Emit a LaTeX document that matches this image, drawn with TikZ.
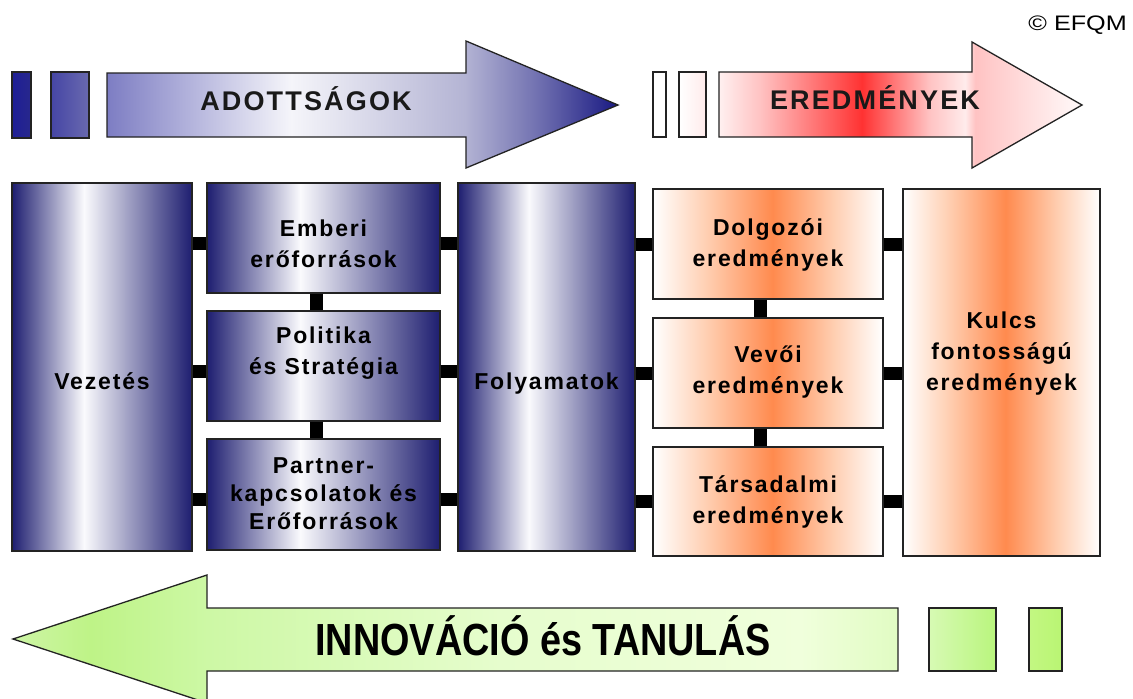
\documentclass[tikz,border=0pt]{standalone}
\usepackage{fontspec}
\usepackage{graphicx}
\setmainfont{Liberation Sans}
\newfontfamily\spaced{Liberation Sans}[LetterSpace=8]

\definecolor{navy}{RGB}{30,30,112}
\definecolor{bwhite}{RGB}{250,250,253}
\definecolor{orng}{RGB}{255,138,78}
\definecolor{orlight}{RGB}{255,205,175}
\definecolor{tA}{RGB}{125,125,195}
\definecolor{tB}{RGB}{245,245,250}
\definecolor{tC}{RGB}{180,180,212}
\definecolor{tD}{RGB}{110,110,175}
\definecolor{tE}{RGB}{25,25,130}
\definecolor{rA}{RGB}{255,240,240}
\definecolor{rB}{RGB}{255,195,195}
\definecolor{rC}{RGB}{255,50,50}
\definecolor{rD}{RGB}{255,235,235}
\definecolor{rE}{RGB}{255,250,250}
\definecolor{gA}{RGB}{205,245,165}
\definecolor{gB}{RGB}{190,243,135}
\definecolor{gC}{RGB}{205,248,165}
\definecolor{gD}{RGB}{230,253,205}
\definecolor{gE}{RGB}{240,255,220}
\definecolor{gF}{RGB}{225,252,195}
\definecolor{edge}{RGB}{35,35,35}

\pgfdeclarehorizontalshading{shBlue}{100bp}{color(0bp)=(navy); color(25bp)=(navy); color(45bp)=(bwhite); color(75bp)=(navy); color(100bp)=(navy)}
\pgfdeclarehorizontalshading{shOrange}{100bp}{color(0bp)=(white); color(25bp)=(white); color(37bp)=(orlight); color(51bp)=(orng); color(64bp)=(orlight); color(75bp)=(white); color(100bp)=(white)}
\pgfdeclarehorizontalshading{shTop}{100bp}{color(0bp)=(tA); color(25bp)=(tA); color(43bp)=(tB); color(60bp)=(tC); color(67.4bp)=(tD); color(75bp)=(tE); color(100bp)=(tE)}
\pgfdeclarehorizontalshading{shRed}{100bp}{color(0bp)=(rA); color(25bp)=(rA); color(30.6bp)=(rB); color(44.7bp)=(rC); color(54bp)=(rB); color(58.9bp)=(rD); color(60.3bp)=(rB); color(75bp)=(rE); color(100bp)=(rE)}
\pgfdeclarehorizontalshading{shGreen}{100bp}{color(0bp)=(gA); color(25bp)=(gA); color(29.4bp)=(gB); color(36bp)=(gC); color(52.5bp)=(gD); color(69.5bp)=(gE); color(75bp)=(gF); color(100bp)=(gF)}

\begin{document}
\begin{tikzpicture}[
  x=1pt, y=-1pt,
  box/.style={draw=edge, line width=1.3pt, rectangle, inner sep=0pt, anchor=center},
  bluebox/.style={box, shade, shading=shBlue},
  orbox/.style={box, shade, shading=shOrange},
  lbl/.style={font=\spaced\bfseries\fontsize{23}{31}\selectfont, align=center, inner sep=0pt, anchor=north, text=black},
  plbl/.style={lbl, font=\spaced\bfseries\fontsize{23}{28}\selectfont},
  conn/.style={line width=13pt, draw=black},
  arrowline/.style={draw=edge, line width=1.3pt, line join=miter},
  arrtext/.style={font=\spaced\bfseries\fontsize{27}{27}\selectfont, inner sep=0pt, anchor=base, text=black!90}
]
\useasboundingbox (0,0) rectangle (1133,699);
\fill[white] (0,0) rectangle (1133,699);

% top blue arrow
\path[shade, arrowline, left color={rgb,255:red,30;green,30;blue,150}, right color={rgb,255:red,40;green,40;blue,140}] (12,72) rectangle (31,138);
\path[shade, arrowline, left color={rgb,255:red,70;green,70;blue,165}, right color={rgb,255:red,105;green,105;blue,175}] (51,72) rectangle (89,138);
\path[shade, shading=shTop, arrowline] (107,73) -- (466,73) -- (466,41) -- (618,105) -- (466,168) -- (466,137) -- (107,137) -- cycle;
\node[arrtext] (adot) at (306,110) {ADOTTSÁGOK};

% top red arrow
\path[arrowline, fill=white] (653,72) rectangle (666,137);
\path[shade, arrowline, left color=white, right color={rgb,255:red,255;green,235;blue,235}] (679,72) rectangle (706,137);
\path[shade, shading=shRed, arrowline] (719,72) -- (972,72) -- (972,42) -- (1082,105) -- (972,168) -- (972,137) -- (719,137) -- cycle;
\node[arrtext] (ered) at (875,109) {EREDMÉNYEK};

% bottom green arrow
\path[shade, shading=shGreen, arrowline] (898,608) -- (207,608) -- (207,575) -- (13,639) -- (207,703) -- (207,671) -- (898,671) -- cycle;
\path[shade, arrowline, left color={rgb,255:red,215;green,250;blue,180}, right color={rgb,255:red,185;green,245;blue,125}] (929,608) rectangle (996,671);
\path[shade, arrowline, left color={rgb,255:red,195;green,247;blue,130}, right color={rgb,255:red,185;green,245;blue,115}] (1029,608) rectangle (1062,671);
\node[font=\bfseries\fontsize{45}{45}\selectfont, inner sep=0pt, anchor=base, text=black] (inno) at (543,655) {\scalebox{0.84}[1]{INNOVÁCIÓ és TANULÁS}};

% copyright
\node[font=\fontsize{21}{21}\selectfont, anchor=base east, inner sep=0pt] (copy) at (1127,30) {\scalebox{1.2}[1]{© EFQM}};

% boxes
\node[bluebox, minimum width=180pt, minimum height=368pt] (vez) at (102,367) {};
\node[bluebox, minimum width=233pt, minimum height=110pt] (emb) at (323.5,238) {};
\node[bluebox, minimum width=233pt, minimum height=110pt] (pol) at (323.5,366) {};
\node[bluebox, minimum width=233pt, minimum height=111pt] (par) at (323.5,494.5) {};
\node[bluebox, minimum width=177pt, minimum height=368pt] (fol) at (546.5,367) {};
\node[orbox, minimum width=230pt, minimum height=110pt] (dol) at (768,244) {};
\node[orbox, minimum width=230pt, minimum height=110pt] (vev) at (768,373) {};
\node[orbox, minimum width=230pt, minimum height=109pt] (tar) at (768,501.5) {};
\node[orbox, minimum width=197pt, minimum height=367pt] (kul) at (1001.5,372.5) {};

% texts
\node[lbl] (vezt) at (102,372) {Vezetés};
\node[lbl] (embt) at (323.5,220) {Emberi\\erőforrások};
\node[lbl] (polt) at (323.5,327) {Politika\\és Stratégia};
\node[plbl] (part) at (323.5,457) {Partner-\\kapcsolatok és\\Erőforrások};
\node[lbl] (folt) at (546.5,373) {Folyamatok};
\node[lbl] (dolt) at (768,218) {Dolgozói\\eredmények};
\node[lbl] (vevt) at (768,346) {Vevői\\eredmények};
\node[lbl] (tart) at (768,475) {Társadalmi\\eredmények};
\node[lbl] (kult) at (1001.5,312) {Kulcs\\fontosságú\\eredmények};

% connectors
\foreach \n in {emb,pol,par}{
  \path ([yshift=-5pt]\n.west) coordinate (\n-l) ([yshift=-5pt]\n.east) coordinate (\n-r);
  \draw[conn] (\n-l) -- (\n-l -| vez.east);
  \draw[conn] (\n-r) -- (\n-r -| fol.west);
}
\foreach \n in {dol,vev,tar}{
  \draw[conn] (\n.west) -- (\n.west -| fol.east);
  \draw[conn] (\n.east) -- (\n.east -| kul.west);
}
\draw[conn] ([xshift=-7pt]emb.south) -- ([xshift=-7pt]pol.north);
\draw[conn] ([xshift=-7pt]pol.south) -- ([xshift=-7pt]par.north);
\draw[conn] ([xshift=-8pt]dol.south) -- ([xshift=-8pt]vev.north);
\draw[conn] ([xshift=-8pt]vev.south) -- ([xshift=-8pt]tar.north);
\end{tikzpicture}
\end{document}
